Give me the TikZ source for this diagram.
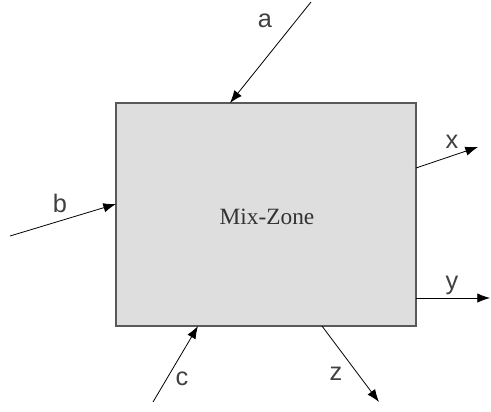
\documentclass[tikz,border=0pt]{standalone}
\usepackage{fontspec}
\setmainfont{Liberation Serif}
\setsansfont{Liberation Sans}
\usetikzlibrary{arrows.meta}

\begin{document}
\begin{tikzpicture}[
  x=0.75pt, y=-0.75pt,
  zona/.style={rectangle, draw=black!65, line width=1pt, fill=black!13,
               minimum width=225pt, minimum height=167.25pt, outer sep=0pt},
  flujo/.style={-{Latex[length=9.5pt,width=7pt]}, line width=0.6pt},
  etiq/.style={font=\sffamily\fontsize{19}{21}\selectfont, text=black!75,
               anchor=base, inner sep=0pt}
]
\useasboundingbox (0,0) rectangle (491,411);

% --- Zona de mezcla ---
\node[zona] (zone) at (266,214.5) {};
\node[font=\fontsize{17.5}{20}\selectfont, text=black!80, anchor=base, inner sep=0pt]
      (mix) at (267,224) {Mix-Zone};

% --- Puntos de los flujos ---
\coordinate (aIn)  at (311,2);
\coordinate (bIn)  at (10,236);
\coordinate (cIn)  at (153,402);
\coordinate (xOut) at (478,147);
\coordinate (yOut) at (490,298);
\coordinate (zOut) at (379,402);

\coordinate (aEnd) at ([xshift=85.5pt]zone.north west);
\coordinate (bEnd) at ([yshift=-75.75pt]zone.north west);
\coordinate (cEnd) at ([xshift=61.5pt]zone.south west);
\coordinate (xBeg) at ([yshift=-48.75pt]zone.north east);
\coordinate (yBeg) at ([yshift=21pt]zone.south east);
\coordinate (zBeg) at ([xshift=154.5pt]zone.south west);

% --- Entradas ---
\draw[flujo] (aIn) -- (aEnd);
\draw[flujo] (bIn) -- (bEnd);
\draw[flujo] (cIn) -- (cEnd);

% --- Salidas ---
\draw[flujo] (xBeg) -- (xOut);
\draw[flujo] (yBeg) -- (yOut);
\draw[flujo] (zBeg) -- (zOut);

% --- Etiquetas ---
\node[etiq] (la) at (265,27)  {a};
\node[etiq] (lb) at (60,212)  {b};
\node[etiq] (lc) at (182,385) {c};
\node[etiq] (lx) at (452,148) {x};
\node[etiq] (ly) at (452,289) {y};
\node[etiq] (lz) at (336,380) {z};

\end{tikzpicture}
\end{document}
